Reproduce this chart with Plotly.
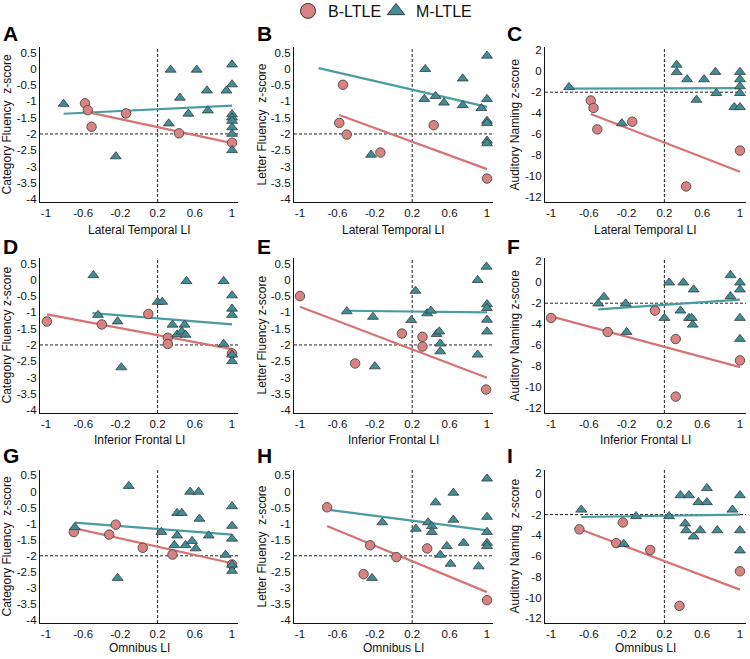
import plotly.graph_objects as go

# ---------------- data ----------------
LI_TICKS = [-1, -0.6, -0.2, 0.2, 0.6, 1]
LI_TICK_TEXT = ["-1", "-0.6", "-0.2", "0.2", "0.6", "1"]
FLU_TICKS = [0.5, 0, -0.5, -1, -1.5, -2, -2.5, -3, -3.5, -4]
FLU_TICK_TEXT = ["0.5", "0", "-0.5", "-1", "-1.5", "-2", "-2.5", "-3", "-3.5", "-4"]
NAM_TICKS = [2, 0, -2, -4, -6, -8, -10, -12]
NAM_TICK_TEXT = ["2", "0", "-2", "-4", "-6", "-8", "-10", "-12"]
LI_CUTOFF = 0.2
Z_CUTOFF = -2

PANEL_LETTERS = ["A", "B", "C", "D", "E", "F", "G", "H", "I"]
X_TITLES = ["Lateral Temporal LI", "Inferior Frontal LI", "Omnibus LI"]
Y_TITLES = ["Category Fluency\u00a0 z-score", "Letter Fluency\u00a0 z-score", "Auditory Naming z-score",
            "Category Fluency z-score", "Letter Fluency z-score", "Auditory Naming z-score",
            "Category Fluency\u00a0 z-score", "Letter Fluency\u00a0 z-score", "Auditory Naming\u00a0 z-score"]
GROUPS = ["B-LTLE", "M-LTLE"]

# Panel A: Lateral temporal LI vs category fluency
A_B_LI = [-0.58, -0.55, -0.51, -0.14, 0.43, 1.0]
A_B_Z = [-1.06, -1.27, -1.78, -1.37, -1.98, -2.27]
A_M_LI = [-0.81, -0.25, 0.34, 0.62, 0.44, 0.73, 0.32, 0.53, 0.74, 0.94, 1, 1, 1, 1, 1, 1, 1, 1]
A_M_Z = [-1.08, -2.69, -0.03, -0.03, -0.89, -0.67, -1.68, -1.38, -1.28, -0.67, 0.13, -0.48, -1.4, -1.5, -1.6, -1.8, -2.0, -2.5]
A_B_FIT_LI = [-0.55, 1.0]
A_B_FIT_Z = [-1.33, -2.28]
A_M_FIT_LI = [-0.81, 1.0]
A_M_FIT_Z = [-1.38, -1.13]

# Panel B: Lateral temporal LI vs letter fluency
B_B_LI = [-0.54, -0.58, -0.50, -0.14, 0.43, 1.0]
B_B_Z = [-0.49, -1.66, -2.02, -2.57, -1.73, -3.37]
B_M_LI = [-0.24, 0.34, 0.33, 0.45, 0.54, 0.74, 0.74, 0.94, 1, 1, 1, 1, 1, 1]
B_M_Z = [-2.64, -0.01, -0.93, -0.84, -1.04, -0.30, -1.12, -1.21, 0.40, -0.93, -1.6, -1.67, -2.21, -2.29]
B_B_FIT_LI = [-0.58, 1.0]
B_B_FIT_Z = [-1.42, -3.08]
B_M_FIT_LI = [-0.80, 1.0]
B_M_FIT_Z = [0.02, -1.17]

# Panel C: Lateral temporal LI vs auditory naming
C_B_LI = [-0.58, -0.55, -0.51, -0.14, 0.43, 1.0]
C_B_Z = [-2.79, -3.50, -5.54, -4.81, -10.97, -7.56]
C_M_LI = [-0.81, -0.25, 0.33, 0.33, 0.44, 0.62, 0.74, 0.75, 0.54, 0.94, 1, 1, 1, 1, 1]
C_M_Z = [-1.52, -4.97, 0.6, -0.1, -0.78, -0.78, -0.08, -2.09, -2.73, -3.43, -3.43, -0.08, -0.78, -1.45, -2.09]
C_B_FIT_LI = [-0.58, 1.0]
C_B_FIT_Z = [-4.07, -9.57]
C_M_FIT_LI = [-0.81, 1.0]
C_M_FIT_Z = [-1.67, -1.62]

# Panel D: Inferior frontal LI vs category fluency
D_B_LI = [-0.99, -0.40, 0.10, 0.31, 0.31, 1.0]
D_B_Z = [-1.28, -1.37, -1.05, -1.78, -1.97, -2.26]
D_M_LI = [-0.49, -0.44, -0.23, -0.19, 0.20, 0.25, 0.51, 0.36, 0.49, 0.41, 0.46, 0.50, 0.91, 0.91, 1, 1, 1, 1, 1]
D_M_Z = [0.14, -1.08, -1.28, -2.69, -0.68, -0.68, -0.04, -1.38, -1.38, -1.68, -1.59, -1.69, -0.04, -1.97, -0.48, -0.89, -1.08, -2.3, -2.5]
D_B_FIT_LI = [-0.99, 1.0]
D_B_FIT_Z = [-1.06, -2.13]
D_M_FIT_LI = [-0.50, 1.0]
D_M_FIT_Z = [-1.02, -1.37]

# Panel E: Inferior frontal LI vs letter fluency
E_B_LI = [-1.0, -0.41, 0.09, 0.31, 0.31, 0.99]
E_B_Z = [-0.50, -2.57, -1.65, -1.75, -2.05, -3.37]
E_M_LI = [-0.50, -0.22, -0.20, 0.235, 0.19, 0.36, 0.40, 0.46, 0.49, 0.50, 0.50, 0.90, 0.90, 0.995, 1, 1, 1, 1]
E_M_Z = [-0.97, -1.14, -2.66, -0.34, -1.24, -1.03, -0.95, -1.67, -1.59, -1.96, -2.20, -0.01, -2.30, 0.40, -0.75, -0.87, -1.23, -1.59]
E_B_FIT_LI = [-1.0, 1.0]
E_B_FIT_Z = [-0.83, -3.01]
E_M_FIT_LI = [-0.50, 1.0]
E_M_FIT_Z = [-0.95, -1.0]

# Panel F: Inferior frontal LI vs auditory naming
F_B_LI = [-1.0, -0.40, 0.10, 0.32, 0.32, 1.0]
F_B_Z = [-3.41, -4.75, -2.71, -5.41, -10.89, -7.45]
F_M_LI = [-0.50, -0.44, -0.21, -0.20, 0.20, 0.25, 0.40, 0.51, 0.37, 0.46, 0.49, 0.50, 0.90, 0.90, 1, 1, 1, 1]
F_M_Z = [-2.04, -1.40, -2.04, -4.75, -3.41, -0.04, -0.04, -0.70, -2.71, -3.41, -3.41, -4.05, 0.66, -1.34, -0.04, -0.70, -3.41, -5.41]
F_B_FIT_LI = [-1.0, 1.0]
F_B_FIT_Z = [-3.25, -8.09]
F_M_FIT_LI = [-0.50, 1.0]
F_M_FIT_Z = [-2.58, -1.66]

# Panel G: Omnibus LI vs category fluency
G_B_LI = [-0.70, -0.25, -0.32, 0.04, 0.36, 1.0]
G_B_Z = [-1.26, -1.03, -1.34, -1.75, -1.96, -2.27]
G_M_LI = [-0.69, -0.11, -0.23, 0.24, 0.55, 0.64, 0.41, 0.46, 0.65, 0.41, 0.75, 0.38, 0.50, 0.57, 0.61, 0.93, 1, 1, 1, 1, 1]
G_M_Z = [-1.11, 0.17, -2.69, -1.26, -0.01, -0.01, -0.67, -0.67, -0.85, -1.37, -1.37, -1.67, -1.67, -1.54, -1.77, -1.97, -0.46, -1.07, -1.47, -2.28, -2.47]
G_B_FIT_LI = [-0.70, 1.0]
G_B_FIT_Z = [-1.14, -2.23]
G_M_FIT_LI = [-0.69, 1.0]
G_M_FIT_Z = [-0.97, -1.34]

# Panel H: Omnibus LI vs letter fluency
H_B_LI = [-0.71, -0.25, -0.32, 0.03, 0.36, 1.0]
H_B_Z = [-0.49, -1.67, -2.57, -2.04, -1.77, -3.38]
H_M_LI = [-0.12, -0.23, 0.24, 0.45, 0.64, 0.64, 0.37, 0.41, 0.41, 0.57, 0.50, 0.61, 0.75, 0.91, 1, 1, 1, 1, 1]
H_M_Z = [-0.96, -2.69, -1.16, -0.34, -0.04, -0.88, -0.96, -1.08, -1.26, -1.70, -1.97, -2.25, -1.60, -2.33, 0.40, -0.79, -1.26, -1.6, -1.7]
H_B_FIT_LI = [-0.71, 1.0]
H_B_FIT_Z = [-1.07, -3.13]
H_M_FIT_LI = [-0.71, 1.0]
H_M_FIT_Z = [-0.56, -1.21]

# Panel I: Omnibus LI vs auditory naming
I_B_LI = [-0.70, -0.24, -0.31, 0.05, 0.36, 1.0]
I_B_Z = [-3.42, -2.76, -4.75, -5.41, -10.8, -7.46]
I_M_LI = [-0.68, -0.23, -0.10, 0.25, 0.37, 0.46, 0.65, 0.56, 0.65, 0.42, 0.43, 0.58, 0.51, 0.76, 0.92, 1, 1, 1]
I_M_Z = [-1.53, -4.84, -2.16, -2.16, -0.14, -0.14, 0.55, -0.81, -0.81, -2.86, -3.52, -3.52, -4.12, -3.52, -1.53, -0.14, -3.52, -5.47]
I_B_FIT_LI = [-0.70, 1.0]
I_B_FIT_Z = [-3.39, -9.23]
I_M_FIT_LI = [-0.68, 1.0]
I_M_FIT_Z = [-2.23, -2.0]

PANELS = [
    (A_B_LI, A_B_Z, A_M_LI, A_M_Z, A_B_FIT_LI, A_B_FIT_Z, A_M_FIT_LI, A_M_FIT_Z),
    (B_B_LI, B_B_Z, B_M_LI, B_M_Z, B_B_FIT_LI, B_B_FIT_Z, B_M_FIT_LI, B_M_FIT_Z),
    (C_B_LI, C_B_Z, C_M_LI, C_M_Z, C_B_FIT_LI, C_B_FIT_Z, C_M_FIT_LI, C_M_FIT_Z),
    (D_B_LI, D_B_Z, D_M_LI, D_M_Z, D_B_FIT_LI, D_B_FIT_Z, D_M_FIT_LI, D_M_FIT_Z),
    (E_B_LI, E_B_Z, E_M_LI, E_M_Z, E_B_FIT_LI, E_B_FIT_Z, E_M_FIT_LI, E_M_FIT_Z),
    (F_B_LI, F_B_Z, F_M_LI, F_M_Z, F_B_FIT_LI, F_B_FIT_Z, F_M_FIT_LI, F_M_FIT_Z),
    (G_B_LI, G_B_Z, G_M_LI, G_M_Z, G_B_FIT_LI, G_B_FIT_Z, G_M_FIT_LI, G_M_FIT_Z),
    (H_B_LI, H_B_Z, H_M_LI, H_M_Z, H_B_FIT_LI, H_B_FIT_Z, H_M_FIT_LI, H_M_FIT_Z),
    (I_B_LI, I_B_Z, I_M_LI, I_M_Z, I_B_FIT_LI, I_B_FIT_Z, I_M_FIT_LI, I_M_FIT_Z),
]

# ---------------- styling / layout ----------------
W, H = 750, 659
FONT = "Liberation Sans, Arial, Helvetica, sans-serif"
B_FILL = "#d98282"
M_FILL = "#3f8e97"
B_LINE = "#d77373"
M_LINE = "#4a9ca3"
EDGE = "#3a3a3a"

COL_PX = [(40, 238), (294, 493), (545, 746)]
ROW_PX = [(47, 202), (258, 413), (470, 623)]
X_RANGE = [-1.064, 1.064]
FLU_RANGE = [-4.09, 0.67]
NAM_RANGE = [-12.45, 2.3]
X_TITLE_Y = [230, 440, 648]
Y_TITLE_X = [6, 261, 514]
LETTER_X = [1, 255, 505]
LETTER_Y = [34, 246, 455]
LEGEND_X = [288, 376]


def px_x(p):
    return p / W


def px_y(p):
    return 1 - p / H


fig = go.Figure()
layout = {}
annotations = []
shapes = []

for i, (b_li, b_z, m_li, m_z, bf_li, bf_z, mf_li, mf_z) in enumerate(PANELS):
    r, c = divmod(i, 3)
    n = "" if i == 0 else str(i + 1)
    xa, ya = "x" + n, "y" + n
    naming = (c == 2)
    fig.add_trace(go.Scatter(x=mf_li, y=mf_z, mode="lines", line=dict(color=M_LINE, width=2.2),
                             xaxis=xa, yaxis=ya, showlegend=False, hoverinfo="skip"))
    fig.add_trace(go.Scatter(x=bf_li, y=bf_z, mode="lines", line=dict(color=B_LINE, width=2.2),
                             xaxis=xa, yaxis=ya, showlegend=False, hoverinfo="skip"))
    fig.add_trace(go.Scatter(x=b_li, y=b_z, mode="markers", name=GROUPS[0],
                             marker=dict(symbol="circle", size=9.5, color=B_FILL, line=dict(color=EDGE, width=0.8)),
                             xaxis=xa, yaxis=ya, showlegend=False, cliponaxis=False))
    fig.add_trace(go.Scatter(x=m_li, y=m_z, mode="markers", name=GROUPS[1],
                             marker=dict(symbol="triangle-up", size=9.5, color=M_FILL, line=dict(color=EDGE, width=0.8)),
                             xaxis=xa, yaxis=ya, showlegend=False, cliponaxis=False))

    x0, x1 = COL_PX[c]
    y0, y1 = ROW_PX[r]
    layout["xaxis" + n] = dict(domain=[px_x(x0), px_x(x1)], range=X_RANGE, anchor=ya, automargin=False,
                               tickvals=LI_TICKS, ticktext=LI_TICK_TEXT, showgrid=False, zeroline=False,
                               showline=True, linecolor="#111", linewidth=1.2, ticks="",
                               tickfont=dict(size=11.5, color="#111", family=FONT))
    layout["yaxis" + n] = dict(domain=[px_y(y1), px_y(y0)], range=NAM_RANGE if naming else FLU_RANGE,
                               anchor=xa, automargin=False,
                               tickvals=NAM_TICKS if naming else FLU_TICKS,
                               ticktext=NAM_TICK_TEXT if naming else FLU_TICK_TEXT,
                               showgrid=False, zeroline=False, showline=True, linecolor="#111", linewidth=1.2,
                               ticks="", tickfont=dict(size=11.5, color="#111", family=FONT))

    shapes.append(dict(type="line", xref=xa, yref=ya + " domain", x0=LI_CUTOFF, x1=LI_CUTOFF, y0=0, y1=1,
                       line=dict(color="#222", width=1, dash="3px,2px"), layer="below"))
    shapes.append(dict(type="line", xref=xa + " domain", yref=ya, x0=0, x1=1, y0=Z_CUTOFF, y1=Z_CUTOFF,
                       line=dict(color="#222", width=1, dash="3px,2px"), layer="below"))

    annotations.append(dict(text=Y_TITLES[i], xref="paper", yref="paper", x=px_x(Y_TITLE_X[c]),
                            y=px_y((y0 + y1) / 2), textangle=-90, showarrow=False, xanchor="center",
                            yanchor="middle", font=dict(size=12, color="#111", family=FONT)))
    annotations.append(dict(text=X_TITLES[r], xref="paper", yref="paper", x=px_x((x0 + x1) / 2),
                            y=px_y(X_TITLE_Y[r]), showarrow=False, xanchor="center", yanchor="middle",
                            font=dict(size=12, color="#111", family=FONT)))
    annotations.append(dict(text="<b>" + PANEL_LETTERS[i] + "</b>", xref="paper", yref="paper",
                            x=px_x(LETTER_X[c]), y=px_y(LETTER_Y[r]), showarrow=False, xanchor="left",
                            yanchor="middle", font=dict(size=21, color="#000", family=FONT)))

# legend entries (one legend per group so each can be positioned)
fig.add_trace(go.Scatter(x=[None], y=[None], mode="markers", name=GROUPS[0], legend="legend",
                         marker=dict(symbol="circle", size=15, color=B_FILL, line=dict(color=EDGE, width=1))))
fig.add_trace(go.Scatter(x=[None], y=[None], mode="markers", name=GROUPS[1], legend="legend2",
                         marker=dict(symbol="triangle-up", size=15, color=M_FILL, line=dict(color=EDGE, width=1))))

legend_common = dict(orientation="h", y=1 + 6 / H, yanchor="top", xanchor="left",
                     font=dict(size=16, family=FONT, color="#111"), itemsizing="trace",
                     itemwidth=30, bgcolor="rgba(0,0,0,0)")

fig.update_layout(
    width=W, height=H,
    margin=dict(l=0, r=0, t=0, b=0, autoexpand=False),
    paper_bgcolor="white", plot_bgcolor="white",
    font=dict(family=FONT, color="#111"),
    showlegend=True,
    legend=dict(x=px_x(LEGEND_X[0]), **legend_common),
    legend2=dict(x=px_x(LEGEND_X[1]), **legend_common),
    annotations=annotations,
    shapes=shapes,
    **layout,
)

fig.write_html("out.html", config={"displayModeBar": False},
               post_script="document.body.style.margin='0';document.body.style.overflow='hidden';")
